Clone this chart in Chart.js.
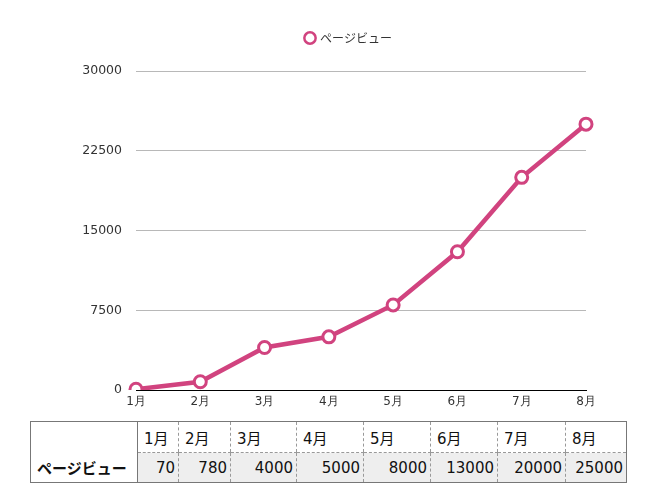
<!DOCTYPE html>
<html>
<head>
<meta charset="utf-8">
<script src="https://cdn.jsdelivr.net/npm/chart.js@4"></script>
<style>
  body { margin: 0; background: #fff; font-family: "DejaVu Sans", "Noto Sans CJK JP", sans-serif; }
  #wrap { position: relative; width: 658px; height: 502px; }
  #chartBox { position: absolute; left: 0; top: 0; width: 658px; height: 416px; }
  table { position: absolute; left: 30px; top: 421px; border-collapse: collapse; table-layout: fixed;
          font-size: 15px; color: #111; border: 1px solid #777; }
  td { padding: 0 5px; white-space: nowrap; overflow: visible; }
  tr.head td { height: 30px; border-left: 1px dashed #999; border-bottom: 1px dashed #999; padding-left: 6px; }
  tr.vals td { height: 29px; background: #eee; text-align: right; border-left: 1px dashed #999; padding-right: 3px; padding-left: 0; }
  td.rowname { font-family: "Noto Sans CJK JP", sans-serif; font-weight: bold; background: #fff !important; text-align: left !important; padding-left: 6px !important; }
  tr.head td.rowname { border-bottom: none; }
  td.first { border-left: 1px solid #777 !important; }
</style>
</head>
<body>
<div id="wrap">
  <div id="chartBox"><canvas id="myChart"></canvas></div>
  <table id="dataTable"></table>
</div>
<script>
// Données
const months = ['1月', '2月', '3月', '4月', '5月', '6月', '7月', '8月'];
const pageViews = [70, 780, 4000, 5000, 8000, 13000, 20000, 25000];
const seriesName = 'ページビュー';
const yTicks = [0, 7500, 15000, 22500, 30000];

const lineColor = '#d1437f';
const colWidths = [107, 41, 52, 66, 67, 67, 67, 68, 61];

// Tableau de données sous le graphique
function buildTable() {
    const table = document.getElementById('dataTable');
    let html = '<colgroup>' + colWidths.map(w => `<col style="width:${w}px">`).join('') + '</colgroup>';
    html += '<tr class="head"><td class="rowname"></td>';
    months.forEach((m, i) => { html += `<td${i === 0 ? ' class="first"' : ''}>${m}</td>`; });
    html += '</tr><tr class="vals"><td class="rowname">' + seriesName + '</td>';
    pageViews.forEach((v, i) => { html += `<td${i === 0 ? ' class="first"' : ''}>${v}</td>`; });
    html += '</tr>';
    table.innerHTML = html;
}
buildTable();

// Espace sous la légende + décalage horizontal de la légende
const legendSpacer = {
    id: 'legendSpacer',
    beforeInit(chart) {
        const origFit = chart.legend.fit;
        chart.legend.fit = function () {
            origFit.bind(chart.legend)();
            this.height += 17;
        };
    },
    afterLayout(chart) {
        chart.legend.left += 56;
        chart.legend.right += 56;
    }
};

const config = {
    type: 'line',
    data: {
        labels: months,
        datasets: [{
            label: seriesName,
            data: pageViews,
            borderColor: lineColor,
            backgroundColor: '#ffffff',
            borderWidth: 4.5,
            pointRadius: 6,
            pointBorderWidth: 3,
            pointBackgroundColor: '#ffffff',
            pointBorderColor: lineColor,
            tension: 0
        }]
    },
    options: {
        responsive: true,
        maintainAspectRatio: false,
        animation: false,
        layout: { padding: { left: 0, right: 72, top: 22, bottom: 0 } },
        scales: {
            x: {
                offset: false,
                grid: { display: false, drawTicks: false },
                border: { display: true, color: '#000000', width: 1 },
                ticks: { color: '#333', padding: 5, font: { family: 'DejaVu Sans', size: 12 } },
                afterFit: (scale) => { scale.height = 26; }
            },
            y: {
                min: 0,
                max: 30000,
                afterBuildTicks: (scale) => { scale.ticks = yTicks.map(v => ({ value: v })); },
                grid: { color: '#b8b8b8', drawTicks: false },
                border: { display: false },
                ticks: {
                    color: '#333',
                    padding: 14,
                    font: { family: 'DejaVu Sans', size: 12.5 },
                    callback: (value) => String(value)
                },
                afterFit: (scale) => { scale.width = 136; }
            }
        },
        plugins: {
            legend: {
                position: 'top',
                labels: {
                    usePointStyle: true,
                    pointStyle: 'circle',
                    boxWidth: 8,
                    boxHeight: 8,
                    padding: 10,
                    color: '#333',
                    font: { family: 'Noto Sans CJK JP', size: 12 },
                    generateLabels: (chart) => {
                        const items = Chart.defaults.plugins.legend.labels.generateLabels(chart);
                        items.forEach(it => { it.lineWidth = 2.5; it.fillStyle = '#ffffff'; });
                        return items;
                    }
                }
            },
            tooltip: { enabled: false }
        }
    },
    plugins: [legendSpacer]
};

const ctx = document.getElementById('myChart').getContext('2d');
new Chart(ctx, config);
</script>
</body>
</html>
